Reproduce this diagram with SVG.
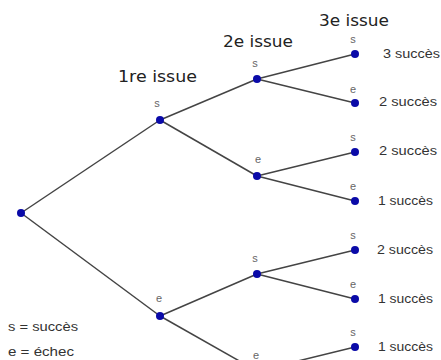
<svg xmlns="http://www.w3.org/2000/svg" width="441" height="360" viewBox="0 0 441 360">
<style>
.edge{stroke:#444;stroke-width:1.5;fill:none}
.dot{fill:#0a0aa8}
.hdr{font-family:"DejaVu Sans",sans-serif;font-size:15px;fill:#222}
.lbl{font-family:"Liberation Sans",sans-serif;font-size:11px;fill:#666}
.res{font-family:"Liberation Sans",sans-serif;font-size:12px;fill:#333}
.leg{font-family:"Liberation Sans",sans-serif;font-size:12px;fill:#333}
</style>
<rect width="441" height="360" fill="#fff"/>
<g id="connectors">
<line class="edge" x1="21" y1="213" x2="160" y2="120"/>
<line class="edge" x1="21" y1="213" x2="160" y2="316"/>
<line class="edge" x1="160" y1="120" x2="257" y2="79"/>
<line class="edge" x1="160" y1="120" x2="257" y2="176"/>
<line class="edge" x1="160" y1="316" x2="257" y2="274"/>
<line class="edge" x1="160" y1="316" x2="257" y2="371"/>
<line class="edge" x1="257" y1="79" x2="355" y2="54"/>
<line class="edge" x1="257" y1="79" x2="355" y2="103"/>
<line class="edge" x1="257" y1="176" x2="355" y2="152"/>
<line class="edge" x1="257" y1="176" x2="355" y2="201"/>
<line class="edge" x1="257" y1="274" x2="355" y2="250"/>
<line class="edge" x1="257" y1="274" x2="355" y2="299"/>
<line class="edge" x1="257" y1="371" x2="355" y2="347"/>
<line class="edge" x1="257" y1="371" x2="355" y2="396"/>
</g>
<g id="headers">
<text class="hdr" x="118" y="82" textLength="79" lengthAdjust="spacingAndGlyphs">1re issue</text>
<text class="hdr" x="223" y="47" textLength="70" lengthAdjust="spacingAndGlyphs">2e issue</text>
<text class="hdr" x="319" y="26" textLength="70" lengthAdjust="spacingAndGlyphs">3e issue</text>
</g>
<g id="root"><circle class="dot" cx="21" cy="213" r="4"/></g>
<g id="n1s"><circle class="dot" cx="160" cy="120" r="4"/><text class="lbl" x="157" y="107" text-anchor="middle">s</text></g>
<g id="n1e"><circle class="dot" cx="160" cy="316" r="4"/><text class="lbl" x="159" y="302" text-anchor="middle">e</text></g>
<g id="n2ss"><circle class="dot" cx="257" cy="79" r="4"/><text class="lbl" x="255" y="67" text-anchor="middle">s</text></g>
<g id="n2se"><circle class="dot" cx="257" cy="176" r="4"/><text class="lbl" x="258" y="163" text-anchor="middle">e</text></g>
<g id="n2es"><circle class="dot" cx="257" cy="274" r="4"/><text class="lbl" x="255" y="262" text-anchor="middle">s</text></g>
<g id="n2ee"><circle class="dot" cx="257" cy="371" r="4"/><text class="lbl" x="256" y="359" text-anchor="middle">e</text></g>
<g id="l1"><circle class="dot" cx="355" cy="54" r="4"/><text class="lbl" x="353" y="43" text-anchor="middle">s</text><text class="res" x="383" y="58" textLength="57" lengthAdjust="spacingAndGlyphs">3 succès</text></g>
<g id="l2"><circle class="dot" cx="355" cy="103" r="4"/><text class="lbl" x="353" y="93" text-anchor="middle">e</text><text class="res" x="379" y="106" textLength="58" lengthAdjust="spacingAndGlyphs">2 succès</text></g>
<g id="l3"><circle class="dot" cx="355" cy="152" r="4"/><text class="lbl" x="353" y="141" text-anchor="middle">s</text><text class="res" x="379" y="155" textLength="58" lengthAdjust="spacingAndGlyphs">2 succès</text></g>
<g id="l4"><circle class="dot" cx="355" cy="201" r="4"/><text class="lbl" x="353" y="190" text-anchor="middle">e</text><text class="res" x="378" y="205" textLength="55" lengthAdjust="spacingAndGlyphs">1 succès</text></g>
<g id="l5"><circle class="dot" cx="355" cy="250" r="4"/><text class="lbl" x="353" y="239" text-anchor="middle">s</text><text class="res" x="377" y="254" textLength="56" lengthAdjust="spacingAndGlyphs">2 succès</text></g>
<g id="l6"><circle class="dot" cx="355" cy="299" r="4"/><text class="lbl" x="353" y="288" text-anchor="middle">e</text><text class="res" x="378" y="303" textLength="55" lengthAdjust="spacingAndGlyphs">1 succès</text></g>
<g id="l7"><circle class="dot" cx="355" cy="347" r="4"/><text class="lbl" x="353" y="336" text-anchor="middle">s</text><text class="res" x="378" y="351" textLength="55" lengthAdjust="spacingAndGlyphs">1 succès</text></g>
<g id="l8"><circle class="dot" cx="355" cy="396" r="4"/></g>
<g id="legend">
<text class="leg" x="8" y="331" textLength="70" lengthAdjust="spacingAndGlyphs">s = succès</text>
<text class="leg" x="8" y="356" textLength="66" lengthAdjust="spacingAndGlyphs">e = échec</text>
</g>
</svg>
